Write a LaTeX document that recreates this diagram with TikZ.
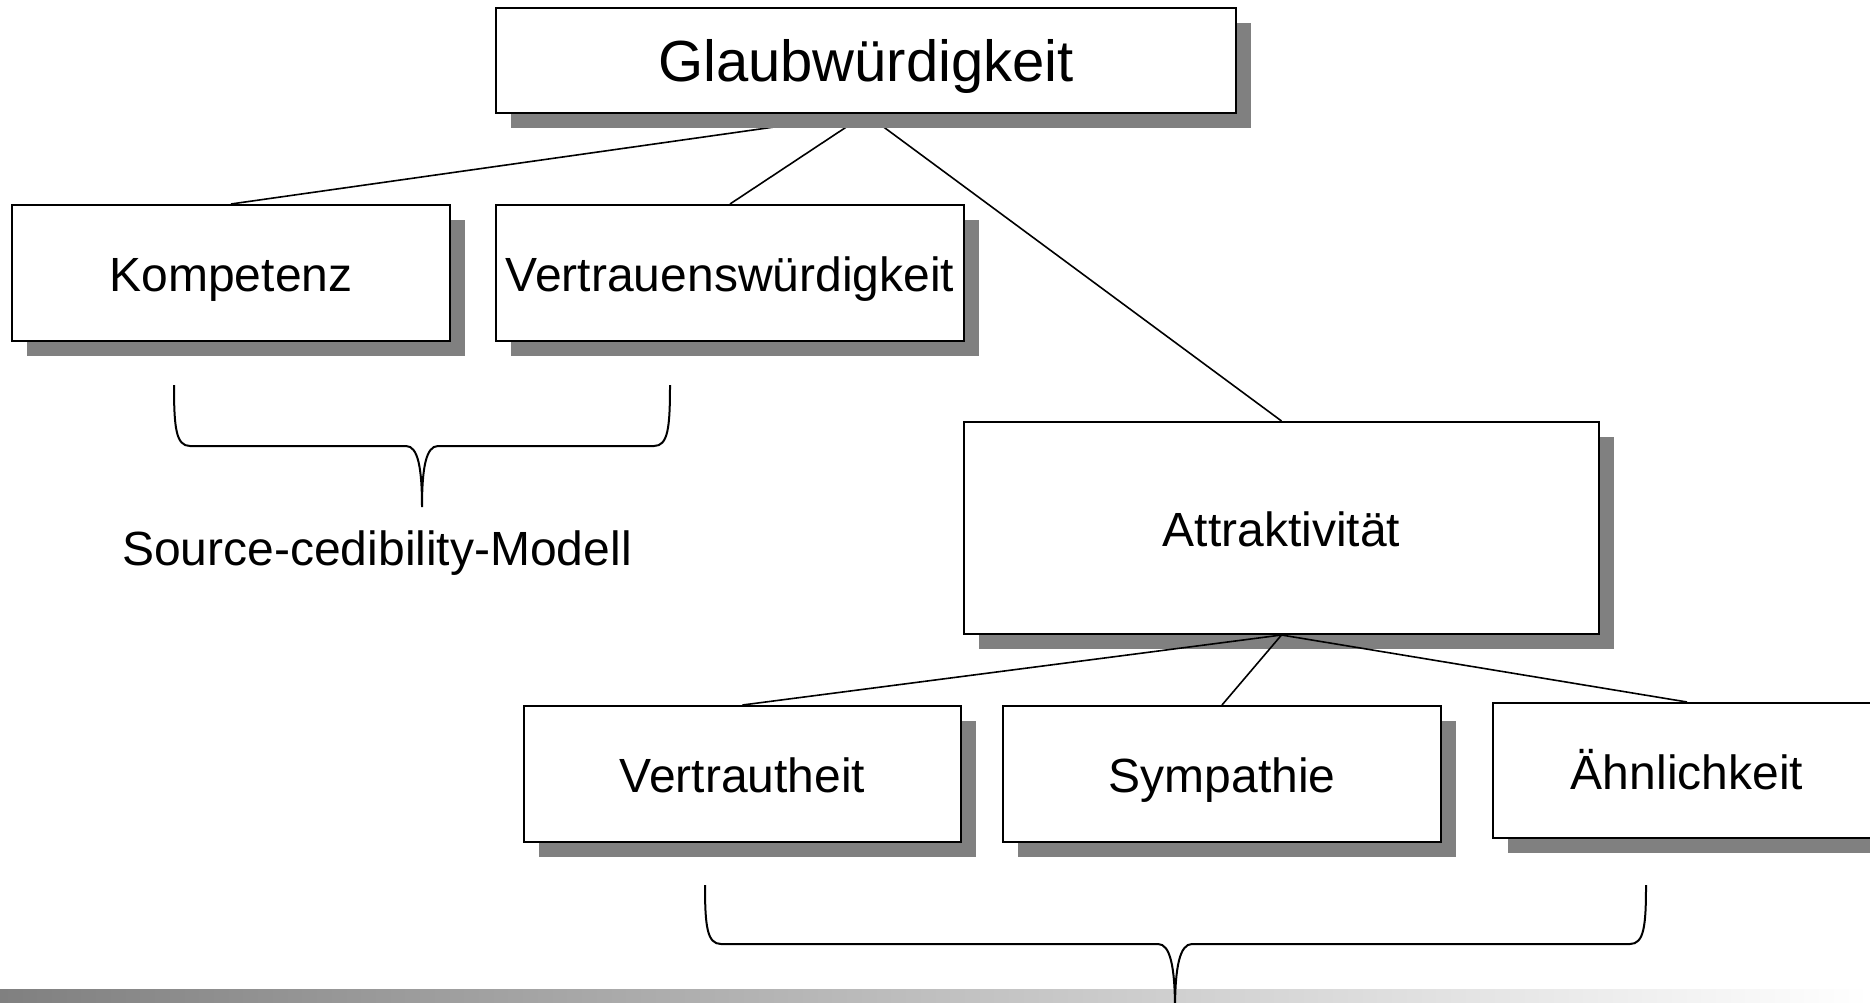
\documentclass[tikz,border=0pt]{standalone}
\usepackage{fontspec}
\setmainfont{Liberation Sans}
\usetikzlibrary{shadows,backgrounds}
\definecolor{shadowgray}{RGB}{128,128,128}
\tikzset{
  labelfont/.style={font=\fontsize{48}{58}\selectfont},
  box/.style={draw=black, line width=2pt, fill=white, inner sep=0pt,
    labelfont, text height=37pt, text depth=0pt,
    drop shadow={shadow xshift=15pt, shadow yshift=-15pt,
      fill=shadowgray, opacity=1}},
  link/.style={line width=1.6pt},
  bracket/.style={line width=2pt},
}
\begin{document}
\begin{tikzpicture}[x=1pt,y=-1pt]
  \useasboundingbox (0,0) rectangle (1870,1003);
  \clip (0,0) rectangle (1870,1003);

  % grey band along the bottom
  \shade[left color=shadowgray, right color=white] (0,989) rectangle (1870,1003);

  % boxes
  \node[box, minimum width=740, minimum height=105, text height=42pt,
        font=\fontsize{58}{68}\selectfont] (glaub) at (866,60.5) {Glaubwürdigkeit};
  \node[box, minimum width=438, minimum height=136] (komp) at (231,273) {Kompetenz};
  \node[box, minimum width=468, minimum height=136] (vertr) at (730,273) {Vertrauenswürdigkeit};
  \node[box, minimum width=635, minimum height=212] (attr) at (1281.5,528) {Attraktivität};
  \node[box, minimum width=437, minimum height=136] (vertraut) at (742.5,774) {Vertrautheit};
  \node[box, minimum width=438, minimum height=136] (symp) at (1222,774) {Sympathie};
  \node[box, minimum width=388, minimum height=135] (aehnl) at (1687,770.5) {Ähnlichkeit};

  % upper connectors run behind the boxes and their shadows
  \begin{pgfonlayer}{background}
    \draw[link] (glaub.south) -- (komp.north);
    \draw[link] (glaub.south) -- (vertr.north);
    \draw[link] (glaub.south) -- (attr.north);
  \end{pgfonlayer}

  % lower connectors lie on top of the shadow
  \draw[link] (attr.south) -- (vertraut.north);
  \draw[link] (attr.south) -- (symp.north);
  \draw[link] (attr.south) -- (aehnl.north);

  % brace under Kompetenz / Vertrauenswuerdigkeit
  \draw[bracket] (174,385) .. controls (174,428) and (176,446) .. (190,446)
    -- (406,446) .. controls (418,446) and (422,468) .. (422,507)
    .. controls (422,468) and (426,446) .. (438,446)
    -- (654,446) .. controls (668,446) and (670,428) .. (670,385);
  \node[labelfont] (source) at (377,553) {Source-cedibility-Modell};

  % brace under Vertrautheit / Sympathie / Aehnlichkeit
  \draw[bracket] (705,885) .. controls (705,926) and (707,944) .. (721,944)
    -- (1158,944) .. controls (1170,944) and (1175,966) .. (1175,1010)
    .. controls (1175,966) and (1180,944) .. (1192,944)
    -- (1630,944) .. controls (1644,944) and (1646,926) .. (1646,885);
\end{tikzpicture}
\end{document}
